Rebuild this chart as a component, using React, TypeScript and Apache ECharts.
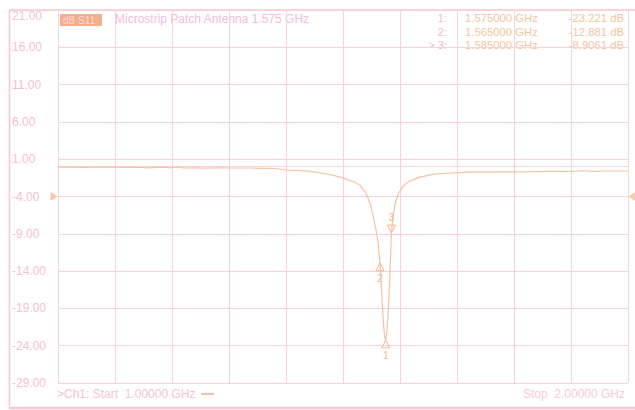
import React, { useEffect, useRef } from "react";
import * as echarts from "echarts";

// Trace data: frequency (GHz) and S11 (dB)
const freqs = [
  1.0, 1.02, 1.04, 1.06, 1.08, 1.1, 1.12, 1.14, 1.16, 1.18, 1.2, 1.21, 1.22, 1.24, 1.26, 1.28, 1.3, 1.34, 1.38,
  1.4, 1.44, 1.46, 1.48, 1.5, 1.52, 1.53, 1.54, 1.548, 1.553, 1.558, 1.561, 1.565, 1.568, 1.571, 1.573, 1.575,
  1.577, 1.579, 1.581, 1.583, 1.585, 1.588, 1.592, 1.597, 1.605, 1.615, 1.635, 1.66, 1.69, 1.72, 1.78, 1.83,
  1.86, 1.9, 1.92, 1.94, 1.96, 2.0,
];
const s11 = [
  -0.05, -0.02, -0.1, -0.05, -0.02, -0.05, -0.1, -0.08, -0.15, -0.05, -0.15, -0.05, -0.18, -0.15, -0.2, -0.17,
  -0.18, -0.18, -0.25, -0.45, -0.6, -0.85, -1.1, -1.5, -2.05, -2.5, -3.5, -5.0, -6.7, -8.5, -9.8, -12.881, -17.0,
  -21.0, -22.8, -23.221, -22.0, -20.0, -17.0, -13.0, -8.906, -6.5, -4.8, -3.6, -2.7, -2.0, -1.4, -1.0, -0.85,
  -0.72, -0.7, -0.68, -0.62, -0.65, -0.55, -0.62, -0.58, -0.58,
];

// Axis ticks
const yMin = -29;
const yMax = 21;
const yStep = 5;
const xMin = 1.0;
const xMax = 2.0;
const xStep = 0.1;

// Markers
const markerIds = ["1", "2", "3"];
const markerFreqs = [1.575, 1.565, 1.585];
const markerVals = [-23.221, -12.881, -8.9061];
const markerFreqText = ["1.575000 GHz", "1.565000 GHz", "1.585000 GHz"];
const markerValText = ["-23.221 dB", "-12.881 dB", "-8.9061 dB"];
const markerPrefix = ["1:", "2:", "> 3:"];

const refLevel = -4;
const traceName = "dB S11";
const titleText = "Microstrip Patch Antenna 1.575 GHz";
const startText = ">Ch1: Start  1.00000 GHz";
const stopText = "Stop  2.00000 GHz";

const FONT = "'Liberation Sans', Arial, sans-serif";
const GRID_C = "#f8d2d9";
const TRACE_C = "#f5c3a1";
const LABEL_C = "#f5bfcb";

export default function App() {
  const ref = useRef<HTMLDivElement>(null);
  useEffect(() => {
    document.body.style.margin = "0";
    const chart = echarts.init(ref.current!, null, { renderer: "svg" });
    const rowY = [18, 31.5, 45];
    const readout: any[] = [];
    markerIds.forEach((_, i) => {
      readout.push({
        type: "text",
        x: 447,
        y: rowY[i],
        style: { text: markerPrefix[i], fill: "#f4bcc0", font: `11px ${FONT}`, align: "right", verticalAlign: "middle" },
      });
      readout.push({
        type: "text",
        x: 465,
        y: rowY[i],
        style: { text: markerFreqText[i], fill: TRACE_C, font: `11.3px ${FONT}`, align: "left", verticalAlign: "middle" },
      });
      readout.push({
        type: "text",
        x: 624,
        y: rowY[i],
        style: { text: markerValText[i], fill: TRACE_C, font: `11.3px ${FONT}`, align: "right", verticalAlign: "middle" },
      });
    });
    chart.setOption({
      animation: false,
      backgroundColor: "#ffffff",
      grid: { left: 58, right: 7, top: 10, bottom: 27, containLabel: false },
      xAxis: {
        type: "value",
        min: xMin,
        max: xMax,
        interval: xStep,
        axisLabel: { show: false },
        axisTick: { show: false },
        axisLine: { show: true, lineStyle: { color: GRID_C, width: 1 } },
        splitLine: { show: true, lineStyle: { color: GRID_C, width: 1 } },
      },
      yAxis: {
        type: "value",
        min: yMin,
        max: yMax,
        interval: yStep,
        axisTick: { show: false },
        axisLine: { show: true, lineStyle: { color: GRID_C, width: 1 } },
        splitLine: { show: true, lineStyle: { color: GRID_C, width: 1 } },
        axisLabel: {
          color: LABEL_C,
          fontSize: 12,
          fontFamily: FONT,
          align: "left",
          margin: 46,
          verticalAlignMaxLabel: "top",
          formatter: (v: number) => v.toFixed(2),
        },
      },
      series: [
        {
          type: "line",
          data: freqs.map((f, i) => [f, s11[i]]),
          showSymbol: false,
          lineStyle: { color: TRACE_C, width: 1.2 },
          markPoint: {
            symbol: "triangle",
            symbolSize: [8, 8],
            itemStyle: { color: "rgba(255,255,255,0)", borderColor: "#f3b690", borderWidth: 1 },
            label: { show: true, color: "#f3b690", fontSize: 10, fontFamily: FONT },
            data: markerIds.map((id, i) => {
              const down = i === 2;
              return {
                coord: [markerFreqs[i], markerVals[i]],
                symbolRotate: down ? 180 : 0,
                symbolOffset: [0, down ? -4 : 4],
                label: { formatter: id, position: down ? "top" : "bottom", distance: 2 },
              };
            }),
          },
        },
        {
          type: "scatter",
          clip: false,
          silent: true,
          symbol: "triangle",
          symbolSize: [9, 7],
          itemStyle: { color: "#f5b994" },
          data: [
            { value: [xMin, refLevel], symbolRotate: -90, symbolOffset: [-4, 0] },
            { value: [xMax, refLevel], symbolRotate: 90, symbolOffset: [4, 0] },
          ],
        },
      ],
      graphic: [
        { type: "line", shape: { x1: 9, y1: 10, x2: 635, y2: 10 }, style: { stroke: "#f6c4ce", lineWidth: 1.5 } },
        { type: "line", shape: { x1: 9.5, y1: 10, x2: 9.5, y2: 406 }, style: { stroke: "#f6c4ce", lineWidth: 1.5 } },
        { type: "line", shape: { x1: 9, y1: 408, x2: 635, y2: 408 }, style: { stroke: "#f8c6ce", lineWidth: 2.5 } },
        { type: "rect", shape: { x: 60, y: 14, width: 42, height: 12 }, style: { fill: "#f5ae8b" } },
        {
          type: "text",
          x: 63,
          y: 20,
          style: { text: traceName, fill: "#fbd8d6", font: `10px ${FONT}`, verticalAlign: "middle" },
        },
        {
          type: "text",
          x: 115,
          y: 19,
          style: { text: titleText, fill: "#f2bcdb", font: `12px ${FONT}`, verticalAlign: "middle" },
        },
        ...readout,
        {
          type: "text",
          x: 57,
          y: 394,
          style: { text: startText, fill: "#f4c2cf", font: `12px ${FONT}`, verticalAlign: "middle" },
        },
        { type: "line", shape: { x1: 201, y1: 394, x2: 214, y2: 394 }, style: { stroke: TRACE_C, lineWidth: 2 } },
        {
          type: "text",
          x: 625,
          y: 394,
          style: { text: stopText, fill: "#f6cad5", font: `12px ${FONT}`, align: "right", verticalAlign: "middle" },
        },
      ],
    });
    return () => chart.dispose();
  }, []);
  return <div ref={ref} style={{ width: 635, height: 410 }} />;
}
